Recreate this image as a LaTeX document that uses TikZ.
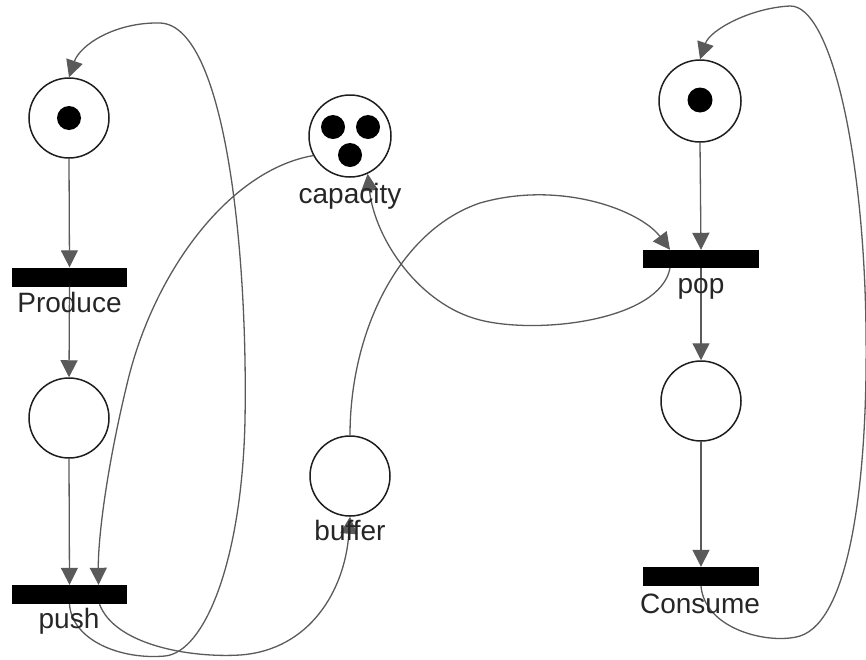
\documentclass[tikz,border=0pt]{standalone}
\usepackage{fontspec}
\setmainfont{Liberation Sans}
\usetikzlibrary{arrows.meta}
\definecolor{arc}{HTML}{5A5A5A}
\definecolor{rim}{HTML}{1E1E1E}
\definecolor{lab}{HTML}{262626}
\begin{document}
\begin{tikzpicture}[x=1pt,y=-1pt,
  place/.style={circle,draw=rim,line width=1.5pt,minimum size=80pt,inner sep=0pt,fill=white},
  trans/.style={rectangle,fill=black,minimum width=115pt,minimum height=19pt,inner sep=0pt},
  token/.style={circle,fill=black,minimum size=24pt,inner sep=0pt},
  lbl/.style={anchor=base,text=lab,font=\fontsize{28}{32}\selectfont,inner sep=0pt},
  arc/.style={draw=arc,line width=1.3pt,-{Triangle[length=17pt,width=17pt]}}]
\useasboundingbox (0,0) rectangle (866,659);
% places
\node[place] (p1) at (69,118) {};
\node[place] (p2) at (69,418) {};
\node[place,minimum size=82pt] (cap) at (350,136) {};
\node[place] (buf) at (350,476) {};
\node[place,minimum size=82pt] (p3) at (700,101) {};
\node[place] (p4) at (701,401) {};
% tokens
\node[token] (k1) at (69,118) {};
\node[token] (k2) at (333,127) {};
\node[token] (k3) at (368,127) {};
\node[token] (k4) at (350,155) {};
\node[token,minimum size=25pt] (k5) at (700,100) {};
% transitions
\node[trans] (tProd) at (69.5,277) {};
\node[trans] (tPush) at (69.5,594.5) {};
\node[trans,minimum width=116pt,minimum height=18pt] (tPop) at (701,259) {};
\node[trans,minimum width=116pt] (tCons) at (701,576.5) {};
% straight arcs
\draw[arc] (p1.south) -- (tProd.north);
\draw[arc] (tProd.south) -- (p2.north);
\draw[arc] (p2.south) -- (tPush.north);
\draw[arc] (p3.south) -- (tPop.north);
\draw[arc] (tPop.south) -- (p4.north);
\draw[arc] (p4.south) -- (tCons.north);
% curved arcs
\draw[arc] (tPush.south) .. controls (72,640) and (120,660) .. (165,656)
  .. controls (205,652) and (242,560) .. (245,420)
  .. controls (248,250) and (225,25) .. (160,23)
  .. controls (115,22) and (80,45) .. (p1.north);
\draw[arc] (cap.208) .. controls (230,170) and (155,270) .. (128,380)
  .. controls (106,470) and (98,540) .. ([xshift=29pt]tPush.north);
\draw[arc] ([xshift=30pt]tPush.south) .. controls (115,645) and (190,658) .. (240,655)
  .. controls (310,650) and (345,590) .. (buf.south);
\draw[arc] (buf.north) .. controls (350,330) and (400,230) .. (480,203)
  .. controls (560,180) and (640,210) .. ([xshift=-31pt]tPop.north);
\draw[arc] ([xshift=-31pt]tPop.south) .. controls (660,320) and (540,335) .. (480,320)
  .. controls (420,305) and (375,240) .. (cap.295);
\draw[arc] (tCons.south) .. controls (705,630) and (770,645) .. (800,636)
  .. controls (850,620) and (868,480) .. (866,330)
  .. controls (864,150) and (830,5) .. (790,6)
  .. controls (750,8) and (710,30) .. (p3.north);
% labels
\node[lbl] (lProd) at (69.5,312) {Produce};
\node[lbl] (lPush) at (69,628) {push};
\node[lbl] (lCap) at (350,203) {capacity};
\node[lbl] (lBuf) at (350,540) {buffer};
\node[lbl] (lPop) at (701,293) {pop};
\node[lbl] (lCons) at (700,613) {Consume};
\end{tikzpicture}
\end{document}
